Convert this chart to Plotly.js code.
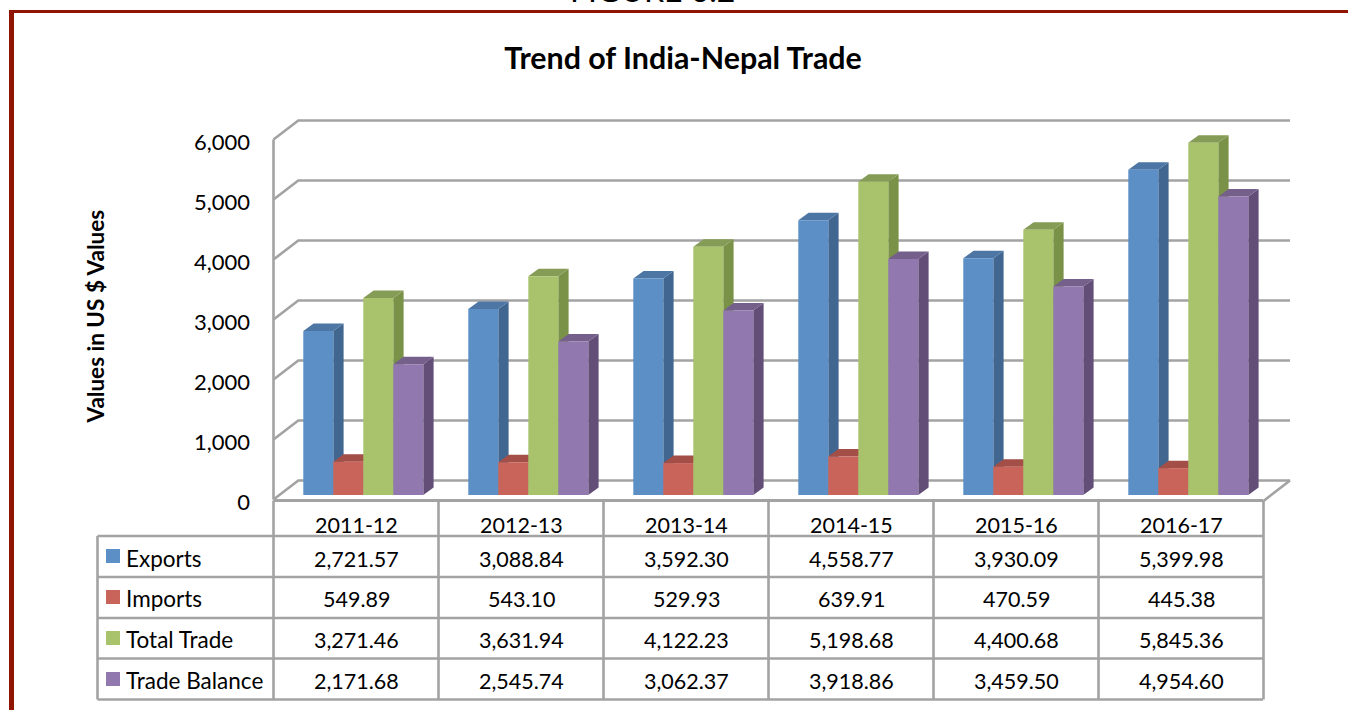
<!DOCTYPE html>
<html><head><meta charset="utf-8">
<script src="https://cdn.plot.ly/plotly-3.0.1.min.js"></script>
<style>html,body{margin:0;padding:0;background:#fff;overflow:hidden}#c{width:1348px;height:710px}</style>
</head><body><div id="c"></div>
<script>
const categories = ["2011-12","2012-13","2013-14","2014-15","2015-16","2016-17"];
const seriesNames = ["Exports","Imports","Total Trade","Trade Balance"];
const exportsV = [2721.57,3088.84,3592.30,4558.77,3930.09,5399.98];
const importsV = [549.89,543.10,529.93,639.91,470.59,445.38];
const totalV = [3271.46,3631.94,4122.23,5198.68,4400.68,5845.36];
const balanceV = [2171.68,2545.74,3062.37,3918.86,3459.50,4954.60];
const yTicks = [0,1000,2000,3000,4000,5000,6000];
const yTickText = ["0","1,000","2,000","3,000","4,000","5,000","6,000"];
const frontColors = ["#5b8fc6","#c9645a","#a9c36d","#9178ae"];
const sideColors = ["#41668f","#8f4740","#7a9148","#634e78"];
const topColors = ["#4d76a5","#a34e46","#859c56","#74608b"];

const W=1348,H=710,FONT="Lato, Carlito, Calibri, sans-serif",GRID="#a3a3a3";
const series=[exportsV,importsV,totalV,balanceV];
const fmt=v=>v.toLocaleString("en-US",{minimumFractionDigits:2,maximumFractionDigits:2});
const py=p=>(H-p)/H, px=p=>p/W;

// ---- scales of the three overlaid coordinate systems (full-page axes)
const barX0=363.3, band=165, barBase=495, barScale=0.06025;
const barXR=[-barX0/band,(W-barX0)/band];
const barYR=[(barBase-H)/barScale,barBase/barScale];
const wallX0=273.5, wallBase=499.5, wallScale=0.06;
const wallXR=[-wallX0/band,(W-wallX0)/band];
const wallYR=[(wallBase-H)/wallScale,wallBase/wallScale];
const labelBase=502;
const labelYR=[(labelBase-H)/wallScale,labelBase/wallScale];

const barW=30/band, depthX=10.3/band, depthY=7.5/barScale;
const wallDY=19/wallScale, backL=24.8/band, backR=(1290-1263)/band+6-0.003;
const LW=2.6;

const traces=[];
// walls: grid lines front edge -> back wall
yTicks.forEach(t=>{
  traces.push({type:"scatter",mode:"lines",x:[0,backL,backR],y:[t,t+wallDY,t+wallDY],
    xaxis:"x",yaxis:"y",line:{color:GRID,width:LW},hoverinfo:"skip",showlegend:false});
});
traces.push({type:"scatter",mode:"lines",x:[0,0],y:[0,yTicks[yTicks.length-1]],xaxis:"x",yaxis:"y",
  line:{color:GRID,width:LW},hoverinfo:"skip",showlegend:false});
traces.push({type:"scatter",mode:"lines",x:[6,backR],y:[-25,wallDY],xaxis:"x",yaxis:"y",
  line:{color:GRID,width:LW},hoverinfo:"skip",showlegend:false});
// side and top faces
series.forEach((vals,s)=>{
  const sx=[],sy=[],tx=[],ty=[];
  vals.forEach((v,i)=>{
    const l=i+(s-2)*barW, r=l+barW;
    sx.push(r,r,r+depthX,r+depthX,r,null); sy.push(0,v,v+depthY,depthY,0,null);
    tx.push(l,r,r+depthX,l+depthX,l,null); ty.push(v,v,v+depthY,v+depthY,v,null);
  });
  traces.push({type:"scatter",mode:"lines",x:sx,y:sy,fill:"toself",fillcolor:sideColors[s],
    line:{width:0,color:sideColors[s]},xaxis:"x2",yaxis:"y2",hoverinfo:"skip",showlegend:false});
  traces.push({type:"scatter",mode:"lines",x:tx,y:ty,fill:"toself",fillcolor:topColors[s],
    line:{width:0,color:topColors[s]},xaxis:"x2",yaxis:"y2",hoverinfo:"skip",showlegend:false});
});
// front faces
series.forEach((vals,s)=>{
  traces.push({type:"bar",name:seriesNames[s],x:categories,y:vals,xaxis:"x3",yaxis:"y3",
    marker:{color:frontColors[s],line:{width:0}},showlegend:false});
});
// carrier for value tick labels
traces.push({type:"scatter",mode:"lines",x:[0],y:[0],xaxis:"x",yaxis:"y4",line:{width:0},hoverinfo:"skip",showlegend:false});

const hidden=r=>({range:r,domain:[0,1],visible:false,fixedrange:true});
const rowY=[536,577,618,658.5,699.5];
const rowMid=[558.5,598.5,639.5,680.5];
const swatchTop=[549,590,631,672];
const shapes=[];
const ln=(x0,y0,x1,y1,w)=>shapes.push({type:"line",xref:"paper",yref:"paper",x0:px(x0),y0:py(y0),x1:px(x1),y1:py(y1),
  line:{color:GRID,width:w||LW},layer:"below"});
// table
ln(273.5,500.5,1263,500.5,3);
rowY.forEach(y=>ln(97.5,y,1263,y,LW));
ln(97.5,536,97.5,699.5,LW);
for(let i=0;i<=categories.length;i++) ln(273.5+band*i,500.5,273.5+band*i,699.5,LW);
// legend keys
seriesNames.forEach((n,s)=>shapes.push({type:"rect",xref:"paper",yref:"paper",x0:px(106),x1:px(120),
  y0:py(swatchTop[s]+14),y1:py(swatchTop[s]),fillcolor:frontColors[s],line:{width:0}}));
// page frame
const RED="#8f1402";
shapes.push({type:"rect",xref:"paper",yref:"paper",x0:px(9),x1:1,y0:py(13),y1:py(10),fillcolor:RED,line:{width:0}});
shapes.push({type:"rect",xref:"paper",yref:"paper",x0:px(9),x1:px(14),y0:0,y1:py(10),fillcolor:RED,line:{width:0}});

const annotations=[];
const txt=(text,xPx,yPx,size,extra)=>annotations.push(Object.assign({text,xref:"paper",yref:"paper",x:px(xPx),y:py(yPx),
  xanchor:"center",yanchor:"middle",showarrow:false,font:{family:FONT,size,color:"#000"}},extra||{}));
const TS=21.5;
categories.forEach((c,i)=>{
  txt(c,273.5+band*(i+.5),524.5,TS);
  series.forEach((vals,s)=>txt(fmt(vals[i]),273.5+band*(i+.5),rowMid[s],TS));
});
seriesNames.forEach((n,s)=>txt(n,123.5,rowMid[s]-0.5,22.5,{xanchor:"left"}));
txt("<b>Values in US $ Values</b>",94.5,317,22.5,{textangle:-90});
txt("FIGURE 6.2",652.5,-11,32);

const layout={width:W,height:H,margin:{l:0,r:0,t:0,b:0},paper_bgcolor:"#fff",plot_bgcolor:"rgba(0,0,0,0)",
  showlegend:false,barmode:"group",bargap:1-4*barW,bargroupgap:0,
  title:{text:"<b>Trend of India-Nepal Trade</b>",font:{family:FONT,size:30.4,color:"#000"},
    xref:"paper",yref:"paper",x:683/W,xanchor:"center",y:py(58),yanchor:"middle"},
  xaxis:hidden(wallXR),yaxis:hidden(wallYR),
  xaxis2:Object.assign(hidden(barXR),{overlaying:"x"}),yaxis2:Object.assign(hidden(barYR),{overlaying:"y"}),
  xaxis3:Object.assign(hidden(barXR),{overlaying:"x",type:"category",categoryorder:"array",categoryarray:categories}),
  yaxis3:Object.assign(hidden(barYR),{overlaying:"y"}),
  yaxis4:{range:labelYR,domain:[0,1],overlaying:"y",anchor:"free",position:px(250),side:"left",fixedrange:true,
    tickmode:"array",tickvals:yTicks,ticktext:yTickText,showgrid:false,zeroline:false,showline:false,ticks:"",
    tickfont:{family:FONT,size:22,color:"#000"}},
  shapes,annotations};
Plotly.newPlot("c",traces,layout,{displayModeBar:false,staticPlot:true});
</script></body></html>
